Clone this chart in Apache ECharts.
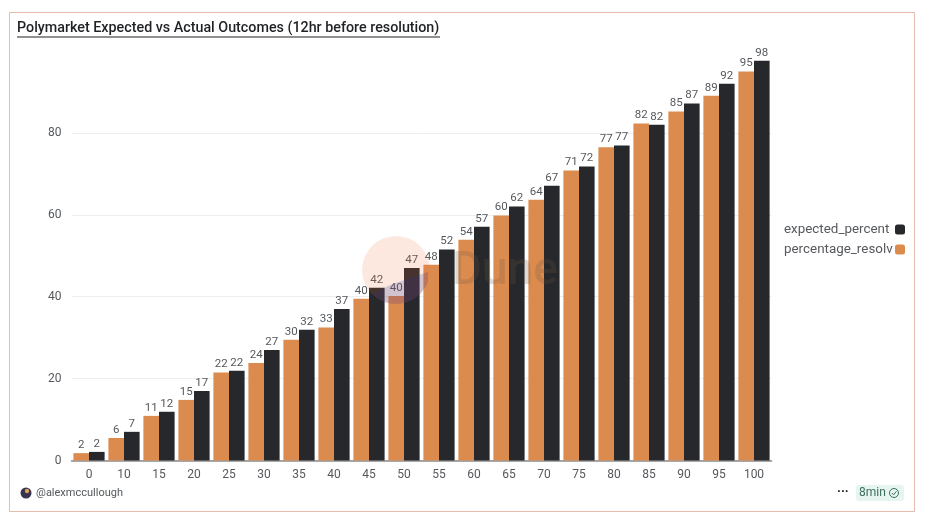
<!DOCTYPE html>
<html>
<head>
<meta charset="utf-8">
<title>Polymarket Expected vs Actual Outcomes</title>
<script src="https://cdn.jsdelivr.net/npm/echarts@6/dist/echarts.min.js"></script>
<style>
  html, body { margin: 0; padding: 0; background: #fff; }
  #chart { width: 926px; height: 521px; }
</style>
</head>
<body>
<div id="chart"></div>
<script>
const categories = ['0', '10', '15', '20', '25', '30', '35', '40', '45', '50', '55', '60', '65', '70', '75', '80', '85', '90', '95', '100'];
const percentageResolved = [1.8, 5.5, 10.9, 14.8, 21.5, 23.8, 29.5, 32.5, 39.5, 40.2, 47.8, 53.9, 59.8, 63.7, 70.8, 76.5, 82.3, 85.2, 89.1, 95];
const expectedPercent = [2.1, 7, 11.9, 17, 21.9, 27, 31.9, 37, 42.2, 47, 51.5, 57.1, 62, 67.1, 71.8, 76.9, 82, 87.2, 92, 97.6];

const font = 'Roboto, "Noto Sans", sans-serif';
const textColor = '#55585c';

const chart = echarts.init(document.getElementById('chart'));

function barSeries(name, values, color) {
  return {
    name: name,
    type: 'bar',
    data: values,
    barWidth: 15.6,
    barGap: '0%',
    itemStyle: { color: color },
    label: {
      show: true,
      position: 'top',
      distance: 2,
      color: textColor,
      fontFamily: font,
      fontSize: 11.5,
      formatter: (p) => Math.round(p.value)
    },
    labelLayout: { hideOverlap: false }
  };
}

// lower part of the watermark circle
const wedge = [[372, 294], [390, 285], [410, 278], [428, 272]];
for (let deg = 20; deg <= 135; deg += 5) {
  const a = deg * Math.PI / 180;
  wedge.push([396 + 34 * Math.cos(a), 270 + 34 * Math.sin(a)]);
}

chart.setOption({
  animation: false,
  backgroundColor: '#fff',
  title: {
    text: 'Polymarket Expected vs Actual Outcomes (12hr before resolution)',
    left: 17,
    top: 21,
    padding: 0,
    textStyle: { fontFamily: font, fontSize: 14.3, fontWeight: 500, color: '#1f2124' }
  },
  grid: { left: 71.5, right: 154.5, top: 51, bottom: 60.5 },
  legend: {
    orient: 'vertical',
    left: 784,
    top: 223,
    align: 'right',
    itemWidth: 10,
    itemHeight: 10,
    itemGap: 7,
    icon: 'roundRect',
    padding: 0,
    data: ['expected_percent', 'percentage_resolved'],
    // the dashboard cuts long names off at the legend's edge
    formatter: (name) => '{n|' + name.slice(0, 17) + '}',
    textStyle: {
      rich: {
        n: { fontFamily: font, fontSize: 13.4, color: textColor, width: 106, align: 'left' }
      }
    }
  },
  xAxis: {
    type: 'category',
    data: categories,
    axisTick: { show: false },
    axisLine: { lineStyle: { color: '#8a8a8a', width: 1.5 } },
    axisLabel: { color: textColor, fontFamily: font, fontSize: 12, margin: 8, interval: 0 }
  },
  yAxis: {
    type: 'value',
    min: 0,
    max: 100,
    interval: 20,
    axisLine: { show: false },
    axisTick: { show: false },
    axisLabel: { color: textColor, fontFamily: font, fontSize: 12, margin: 10, showMaxLabel: false },
    splitLine: { showMaxLine: false, lineStyle: { color: '#eeeeee', width: 1 } }
  },
  series: [
    barSeries('percentage_resolved', percentageResolved, '#dc8b4e'),
    barSeries('expected_percent', expectedPercent, '#26282b')
  ],
  graphic: [
    // card border
    { type: 'rect', z: -1, silent: true, shape: { x: 9.5, y: 12.5, width: 905, height: 499 },
      style: { fill: 'none', stroke: '#e6bcae', lineWidth: 1 } },
    // title underline
    { type: 'line', z: 10, shape: { x1: 17, y1: 37, x2: 440, y2: 37 }, style: { stroke: '#1f2124', lineWidth: 1 } },
    // Dune watermark
    { type: 'circle', z: 20, silent: true, shape: { cx: 396, cy: 270, r: 34 }, style: { fill: 'rgba(240,110,60,0.16)' } },
    { type: 'polygon', z: 21, silent: true, shape: { points: wedge }, style: { fill: 'rgba(40,50,150,0.2)' } },
    { type: 'text', z: 20, silent: true, style: { x: 452, y: 272, text: 'Dune', verticalAlign: 'middle',
      font: '500 46px ' + font, fill: 'rgba(110,85,70,0.22)' } },
    // footer: author
    { type: 'circle', z: 10, shape: { cx: 26, cy: 493, r: 5.5 }, style: { fill: '#3a3350' } },
    { type: 'circle', z: 11, shape: { cx: 27, cy: 491, r: 2.2 }, style: { fill: '#d9a35b' } },
    { type: 'text', z: 10, style: { x: 36, y: 493, text: '@alexmccullough', verticalAlign: 'middle',
      font: '11px ' + font, fill: textColor } },
    // footer: age badge
    { type: 'text', z: 10, style: { x: 837, y: 492, text: '···', verticalAlign: 'middle',
      font: 'bold 13px ' + font, fill: '#222' } },
    { type: 'rect', z: 10, shape: { x: 856, y: 485, width: 48, height: 16, r: 3 }, style: { fill: '#e6f5ef' } },
    { type: 'text', z: 11, style: { x: 859, y: 493, text: '8min', verticalAlign: 'middle',
      font: '12px ' + font, fill: '#3c6e5c' } },
    { type: 'circle', z: 11, shape: { cx: 894, cy: 493, r: 4.5 }, style: { fill: 'none', stroke: '#3c6e5c', lineWidth: 1 } },
    { type: 'polyline', z: 11, shape: { points: [[892, 493], [893.6, 494.8], [896.4, 491.4]] }, style: { fill: 'none', stroke: '#3c6e5c', lineWidth: 1 } }
  ]
});
</script>
</body>
</html>
